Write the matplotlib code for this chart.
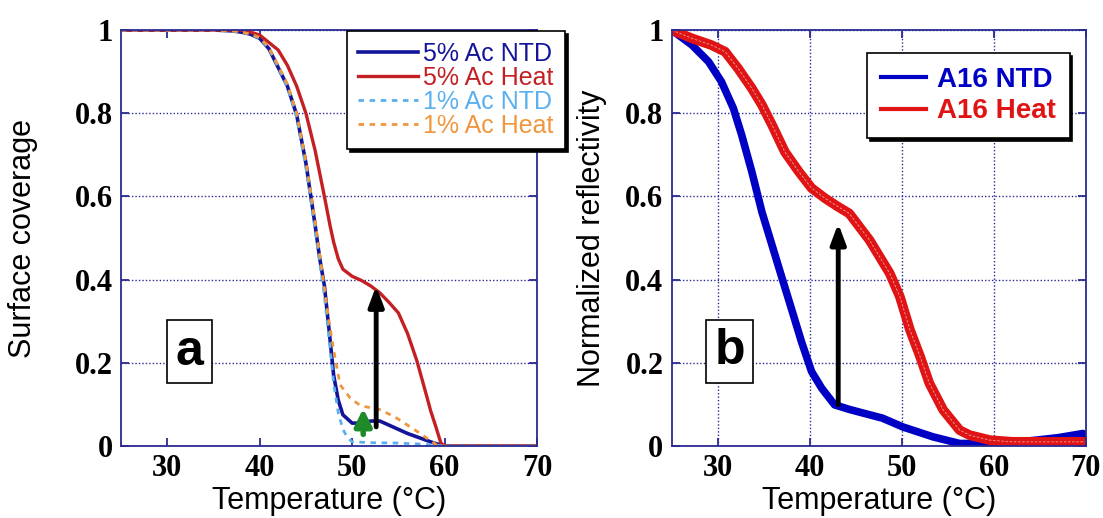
import numpy as np
import matplotlib
matplotlib.use('Agg')
import matplotlib.pyplot as plt

# panel a : surface coverage vs temperature
t_ntd5 = [25, 30, 35, 37, 38, 39, 40, 41, 42, 43, 44, 45, 46, 46.5, 47, 47.5, 48, 48.5, 49,
          50, 51, 52, 53, 54, 55, 56, 57, 58, 59, 60, 70]
ntd5 = [1, 1, 1, 0.998, 0.995, 0.99, 0.98, 0.955, 0.91, 0.865, 0.796, 0.68, 0.53, 0.45, 0.385,
        0.28, 0.17, 0.11, 0.075, 0.055, 0.055, 0.06, 0.06, 0.05, 0.04, 0.03, 0.022, 0.014,
        0.006, 0, 0]
t_heat5 = [25, 30, 35, 38, 39, 40, 41, 42, 43, 44, 45, 46, 47, 47.6, 48, 48.5, 49, 50, 51, 52,
           53, 54, 55, 56, 57, 58, 58.5, 59, 59.6, 60, 70]
heat5 = [1, 1, 1, 1, 0.995, 0.988, 0.97, 0.952, 0.915, 0.865, 0.80, 0.71, 0.60, 0.531, 0.49,
         0.45, 0.425, 0.408, 0.398, 0.385, 0.368, 0.345, 0.32, 0.27, 0.205, 0.125, 0.084,
         0.05, 0.007, 0, 0]
t_ntd1 = [25, 30, 35, 37, 38, 39, 40, 41, 42, 43, 44, 45, 46, 47, 47.5, 48, 48.5, 49, 49.5,
          50, 52, 55, 57, 59, 60, 70]
ntd1 = [1, 1, 1, 0.998, 0.995, 0.99, 0.98, 0.955, 0.91, 0.862, 0.79, 0.67, 0.52, 0.36, 0.26,
        0.15, 0.08, 0.04, 0.02, 0.01, 0.008, 0.007, 0.005, 0.002, 0, 0]
t_heat1 = [25, 30, 35, 37, 38, 39, 40, 41, 42, 43, 44, 45, 46, 47, 47.5, 48, 48.7, 49.8, 50.9,
           53.1, 54.9, 57.1, 59.3, 60, 70]
heat1 = [1, 1, 1, 0.998, 0.995, 0.99, 0.982, 0.958, 0.915, 0.87, 0.80, 0.685, 0.54, 0.38, 0.3,
         0.23, 0.147, 0.115, 0.097, 0.087, 0.066, 0.034, 0.0, 0, 0]

# panel b : normalized reflectivity vs temperature
t_ntd_b = [25, 27.2, 29, 30.4, 31.7, 32.6, 33.7, 34.8, 35.9, 37, 38, 39.1, 40.2, 41.3, 42.7,
           44.3, 46, 47.9, 50.1, 53.4, 56.3, 59.6, 62, 64.6, 67, 69.7, 70]
ntd_b = [1, 0.964, 0.924, 0.876, 0.812, 0.748, 0.66, 0.563, 0.483, 0.403, 0.331, 0.251, 0.179,
         0.139, 0.099, 0.088, 0.078, 0.067, 0.046, 0.022, 0.006, 0.006, 0.008, 0.014, 0.02,
         0.03, 0.025]
t_heat_b = [25, 27.2, 29.3, 30.8, 32.2, 33.7, 34.8, 35.9, 37.3, 38.8, 40.2, 41.7, 43.1, 44.3,
            46.5, 48.7, 49.8, 50.9, 52, 53, 54.5, 56.3, 57.4, 59.6, 62, 66, 70]
heat_b = [1, 0.98, 0.964, 0.948, 0.908, 0.86, 0.82, 0.772, 0.707, 0.66, 0.62, 0.595, 0.575,
          0.559, 0.495, 0.415, 0.359, 0.279, 0.215, 0.151, 0.087, 0.038, 0.026, 0.014, 0.01,
          0.01, 0.01]

xticks = [30, 40, 50, 60, 70]
yticks = [0, 0.2, 0.4, 0.6, 0.8, 1]
ylabels = ['0', '0.2', '0.4', '0.6', '0.8', '1']

navy = '#2a2a92'
tickfont = {'family': 'Liberation Serif', 'weight': 'bold', 'size': 22}

fig = plt.figure(figsize=(11.03, 5.18), dpi=100)
ax1 = fig.add_axes([0.1097, 0.139, 0.3772, 0.803])
ax2 = fig.add_axes([0.609, 0.139, 0.3753, 0.803])


def style_axes(ax, ylab, xgrid, ylab_x):
    ax.set_xlim(25, 70)
    ax.set_ylim(0, 1)
    ax.set_xticks(xticks)
    ax.set_yticks(yticks)
    ax.set_xticklabels([str(v) for v in xticks], fontdict=tickfont)
    ax.set_yticklabels(ylabels, fontdict=tickfont)
    for s in ax.spines.values():
        s.set_color(navy)
        s.set_linewidth(1.3)
    ax.tick_params(direction='in', length=6, width=1.3, color=navy, top=True, right=True,
                   pad=6)
    ax.grid(axis='y', color=navy, linestyle=(0, (1, 1.5)), linewidth=1)
    if xgrid:
        ax.grid(axis='x', color=navy, linestyle=(0, (1, 1.5)), linewidth=1)
    ax.set_axisbelow(True)
    ax.set_xlabel('Temperature (°C)', family='Liberation Sans', fontsize=22, labelpad=2)
    ax.set_ylabel(ylab, family='Liberation Sans', fontsize=22)
    ax.yaxis.set_label_coords(ylab_x, 0.5)


style_axes(ax1, 'Surface coverage', False, -0.2)
style_axes(ax2, 'Normalized reflectivity', True, -0.157)

# panel a curves
ax1.plot(t_ntd5, ntd5, color='#14149a', lw=2.6, label='5% Ac NTD')
ax1.plot(t_heat5, heat5, color='#c42024', lw=2.4, label='5% Ac Heat')
ax1.plot(t_ntd1, ntd1, color='#5ab0ee', lw=2, ls=(0, (2, 2)), label='1% Ac NTD')
ax1.plot(t_heat1, heat1, color='#f0963c', lw=2, ls=(0, (2, 2)), label='1% Ac Heat')

ax1.annotate('', xy=(52.6, 0.385), xytext=(52.6, 0.046),
             arrowprops=dict(arrowstyle='-|>,head_width=0.45,head_length=1.2', lw=3.5,
                             color='black', shrinkA=0, shrinkB=0))
ax1.annotate('', xy=(51.2, 0.09), xytext=(51.2, 0.028),
             arrowprops=dict(arrowstyle='-|>,head_width=0.5,head_length=1.0', lw=4,
                             color='#1e8a2a', shrinkA=0, shrinkB=0))

leg1 = ax1.legend(loc='upper right', bbox_to_anchor=(1.067, 0.998), borderaxespad=0,
                  fancybox=False, shadow={'color': 'black', 'alpha': 1}, edgecolor='black',
                  prop={'family': 'Liberation Sans', 'size': 18}, handlelength=2.4,
                  handletextpad=0.2, labelspacing=0.0, borderpad=0.45, framealpha=1)
leg1.get_frame().set_linewidth(1.2)
for txt, ln in zip(leg1.get_texts(), leg1.get_lines()):
    txt.set_color(ln.get_color())

ax1.text(0.165, 0.226, 'a', transform=ax1.transAxes, ha='center', va='center',
         family='Liberation Sans', weight='bold', fontsize=36,
         bbox=dict(boxstyle='square,pad=0.17', fc='white', ec='black', lw=1.2))

# panel b curves
ax2.plot(t_ntd_b, ntd_b, color='#0000c4', lw=5.5, label='A16 NTD')
ax2.plot(t_heat_b, heat_b, color='#e01414', lw=7, label='A16 Heat')
ax2.plot(t_heat_b, heat_b, color='white', lw=0.6, ls=(0, (3, 2)), alpha=0.6)

ax2.annotate('', xy=(43.1, 0.535), xytext=(43.1, 0.1),
             arrowprops=dict(arrowstyle='-|>,head_width=0.45,head_length=1.2', lw=3.5,
                             color='black', shrinkA=0, shrinkB=0))

leg2 = ax2.legend(handles=ax2.get_lines()[:2], loc='upper right',
                  bbox_to_anchor=(0.961, 0.945), borderaxespad=0,
                  fancybox=False, shadow={'color': 'black', 'alpha': 1}, edgecolor='black',
                  prop={'family': 'Liberation Sans', 'weight': 'bold', 'size': 20},
                  handlelength=1.6, handletextpad=0.4, labelspacing=0.2, borderpad=0.5,
                  framealpha=1)
leg2.get_frame().set_linewidth(1.2)
for ln in leg2.get_lines():
    ln.set_linewidth(3)
for txt, ln in zip(leg2.get_texts(), leg2.get_lines()):
    txt.set_color(ln.get_color())

ax2.text(0.14, 0.228, 'b', transform=ax2.transAxes, ha='center', va='center',
         family='Liberation Sans', weight='bold', fontsize=36,
         bbox=dict(boxstyle='square,pad=0.17', fc='white', ec='black', lw=1.2))

fig.savefig('out.png', dpi=100)
